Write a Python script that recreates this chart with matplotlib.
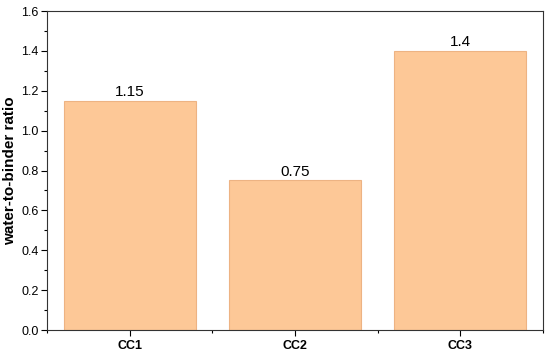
import numpy as np
import matplotlib.pyplot as plt
from matplotlib.ticker import MultipleLocator

plt.rcParams['font.family'] = ['Liberation Sans', 'DejaVu Sans']

# data
categories = ['CC1', 'CC2', 'CC3']
ratios = [1.15, 0.75, 1.4]
labels = ['1.15', '0.75', '1.4']

fig = plt.figure(figsize=(5.5, 3.56), dpi=100)
ax = fig.add_axes([0.0855, 0.073, 0.9015, 0.896])

x = np.arange(1, len(categories) + 1)
bars = ax.bar(x, ratios, width=0.8, color='#FDC897', edgecolor='#EDB383', linewidth=0.8)

for xi, v, lab in zip(x, ratios, labels):
    ax.text(xi, v + 0.008, lab, ha='center', va='bottom', fontsize=11)

ax.set_xlim(0.5, 3.5)
ax.set_ylim(0, 1.6)
ax.set_xticks(x)
ax.set_xticklabels(categories, fontweight='bold', fontsize=12)
ax.xaxis.set_minor_locator(MultipleLocator(0.5))
ax.yaxis.set_major_locator(MultipleLocator(0.2))
ax.yaxis.set_minor_locator(MultipleLocator(0.1))
ax.tick_params(axis='both', which='major', direction='out', length=4, width=0.8, labelsize=9, pad=2)
ax.tick_params(axis='x', which='major', pad=3)
ax.tick_params(axis='both', which='minor', direction='out', length=2.5, width=0.8)
ax.set_ylabel('water-to-binder ratio', fontweight='bold', fontsize=11, labelpad=3)

for s in ax.spines.values():
    s.set_color('#333333')
    s.set_linewidth(0.8)

fig.savefig('out.png', dpi=100)
